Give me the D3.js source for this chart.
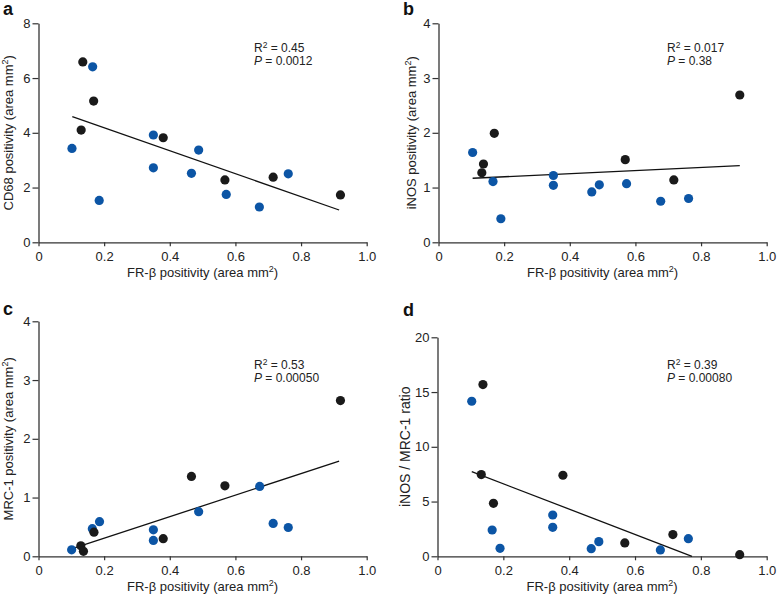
<!DOCTYPE html>
<html><head><meta charset="utf-8">
<script src="https://cdn.jsdelivr.net/npm/d3@7"></script>
<style>
body{margin:0;background:#fff;}
svg{font-family:"Liberation Sans",Arial,sans-serif;}
</style></head>
<body><svg id="c" width="778" height="596"></svg>
<script>
// shared x values (FR-β positivity)
const panelA_black_x = [0.135,0.168,0.130,0.380,0.568,0.715,0.920];
const panelA_black_y = [6.59,5.16,4.10,3.82,2.28,2.38,1.73];
const panelA_blue_x  = [0.102,0.165,0.185,0.350,0.350,0.466,0.488,0.572,0.673,0.761];
const panelA_blue_y  = [3.43,6.41,1.53,3.92,2.72,2.52,3.37,1.75,1.29,2.50];
const panelA_fit     = [[0.103,4.59],[0.916,1.18]];

const panelB_black_x = [0.132,0.137,0.170,0.569,0.717,0.918];
const panelB_black_y = [1.27,1.43,1.99,1.51,1.14,2.69];
const panelB_blue_x  = [0.104,0.166,0.190,0.350,0.350,0.467,0.490,0.573,0.677,0.762];
const panelB_blue_y  = [1.64,1.11,0.43,1.22,1.04,0.92,1.05,1.07,0.75,0.80];
const panelB_fit     = [[0.104,1.17],[0.918,1.40]];

const panelC_black_x = [0.129,0.137,0.169,0.380,0.466,0.568,0.920];
const panelC_black_y = [0.18,0.085,0.41,0.30,1.36,1.20,2.65];
const panelC_blue_x  = [0.101,0.164,0.186,0.350,0.350,0.488,0.674,0.715,0.761];
const panelC_blue_y  = [0.11,0.47,0.59,0.45,0.27,0.76,1.19,0.56,0.49];
const panelC_fit     = [[0.103,0.13],[0.916,1.62]];

const panelD_black_x = [0.138,0.133,0.170,0.381,0.569,0.715,0.918];
const panelD_black_y = [15.68,7.46,4.84,7.40,1.22,1.98,0.15];
const panelD_blue_x  = [0.104,0.166,0.190,0.350,0.350,0.467,0.490,0.677,0.762];
const panelD_blue_y  = [14.16,2.40,0.73,3.77,2.65,0.70,1.34,0.58,1.61];
const panelD_fit     = [[0.104,7.73],[0.773,0.0]];

const xTicks = [0,0.2,0.4,0.6,0.8,1.0];
const xTickLabels = ["0","0.2","0.4","0.6","0.8","1.0"];
const yTicksA = [0,2,4,6,8];
const yTicksB = [0,1,2,3,4];
const yTicksC = [0,1,2,3,4];
const yTicksD = [0,5,10,15,20];
const panelLetters = ["a","b","c","d"];
const yTitles = ["CD68 positivity (area mm","iNOS positivity (area mm","MRC-1 positivity (area mm","iNOS / MRC-1 ratio"];
const yTitleSup = [true,true,true,false];
const r2Labels = ["0.45","0.017","0.53","0.39"];
const pLabels = ["0.0012","0.38","0.00050","0.00080"];

const BLUE = "#0c55a5", BLACK = "#1a1a1a", AX = "#333";
const svg = d3.select("#c");

const panels = [
  {L:38.5,R:366.7,B:242.3,T:23.3,ymax:8,yt:yTicksA,bx:panelA_black_x,by:panelA_black_y,ux:panelA_blue_x,uy:panelA_blue_y,fit:panelA_fit,
   letter:[3,15],ann:[254,52],ytx:12.5,ytfs:13,xtb:277},
  {L:438.5,R:766.7,B:242.3,T:23.3,ymax:4,yt:yTicksB,bx:panelB_black_x,by:panelB_black_y,ux:panelB_blue_x,uy:panelB_blue_y,fit:panelB_fit,
   letter:[403,15],ann:[667,52],ytx:416,ytfs:13,xtb:277},
  {L:38.5,R:366.7,B:556.3,T:321.3,ymax:4,yt:yTicksC,bx:panelC_black_x,by:panelC_black_y,ux:panelC_blue_x,uy:panelC_blue_y,fit:panelC_fit,
   letter:[3,315],ann:[254,369],ytx:12.5,ytfs:13,xtb:591},
  {L:437.5,R:766.7,B:556.3,T:337.3,ymax:20,yt:yTicksD,bx:panelD_black_x,by:panelD_black_y,ux:panelD_blue_x,uy:panelD_blue_y,fit:panelD_fit,
   letter:[403,316],ann:[667,369],ytx:410,ytfs:14,xtb:591}
];

panels.forEach((p,i)=>{
  const x = d3.scaleLinear().domain([0,1]).range([p.L,p.R]);
  const y = d3.scaleLinear().domain([0,p.ymax]).range([p.B,p.T]);
  const g = svg.append("g");

  const xa = g.append("g").attr("transform",`translate(0,${p.B})`)
    .call(d3.axisBottom(x).tickValues(xTicks).tickFormat((d,k)=>xTickLabels[k]).tickSize(4).tickPadding(5.5).tickSizeOuter(0));
  const ya = g.append("g").attr("transform",`translate(${p.L},0)`)
    .call(d3.axisLeft(y).tickValues(p.yt).tickFormat(d3.format("d")).tickSize(6).tickPadding(2).tickSizeOuter(0));
  [xa,ya].forEach(a=>{
    a.select(".domain").attr("stroke",AX).attr("stroke-width",1.3);
    a.selectAll(".tick line").attr("stroke",AX).attr("stroke-width",1.2);
    a.selectAll(".tick text").attr("fill","#222").style("font-size","13px").style("font-family","Liberation Sans, Arial, sans-serif");
  });

  // fit line
  g.append("line")
    .attr("x1",x(p.fit[0][0])).attr("y1",y(p.fit[0][1]))
    .attr("x2",x(p.fit[1][0])).attr("y2",y(p.fit[1][1]))
    .attr("stroke","#111").attr("stroke-width",1.3);

  // points: blue then black
  g.selectAll("circle.bl").data(d3.zip(p.ux,p.uy)).join("circle")
    .attr("cx",d=>x(d[0])).attr("cy",d=>y(d[1])).attr("r",4.6).attr("fill",BLUE);
  g.selectAll("circle.bk").data(d3.zip(p.bx,p.by)).join("circle")
    .attr("cx",d=>x(d[0])).attr("cy",d=>y(d[1])).attr("r",4.6).attr("fill",BLACK);

  // panel letter
  g.append("text").attr("x",p.letter[0]).attr("y",p.letter[1]).text(panelLetters[i])
    .style("font-size","18px").style("font-weight","bold").attr("fill","#111");

  // x title
  const xt = g.append("text").attr("x",(p.L+p.R)/2).attr("y",p.xtb).attr("text-anchor","middle")
    .style("font-size","13px").attr("fill","#222");
  xt.append("tspan").text("FR-β positivity (area mm");
  xt.append("tspan").text("2").attr("dy",-5).style("font-size","9px");
  xt.append("tspan").text(")").attr("dy",5);

  // y title
  const yt = g.append("text").attr("transform",`translate(${p.ytx},${(p.T+p.B)/2}) rotate(-90)`)
    .attr("text-anchor","middle").style("font-size",p.ytfs+"px").attr("fill","#222");
  yt.append("tspan").text(yTitles[i]);
  if(yTitleSup[i]){
    yt.append("tspan").text("2").attr("dy",-5).style("font-size","9px");
    yt.append("tspan").text(")").attr("dy",5);
  }

  // annotation
  const a1 = g.append("text").attr("x",p.ann[0]).attr("y",p.ann[1]).style("font-size","12px").attr("fill","#222");
  a1.append("tspan").text("R");
  a1.append("tspan").text("2").attr("dy",-4.5).style("font-size","8.5px");
  a1.append("tspan").text(" = " + r2Labels[i]).attr("dy",4.5);
  const a2 = g.append("text").attr("x",p.ann[0]).attr("y",p.ann[1]+13).style("font-size","12px").attr("fill","#222");
  a2.append("tspan").text("P").style("font-style","italic");
  a2.append("tspan").text(" = " + pLabels[i]);
});
</script></body></html>
